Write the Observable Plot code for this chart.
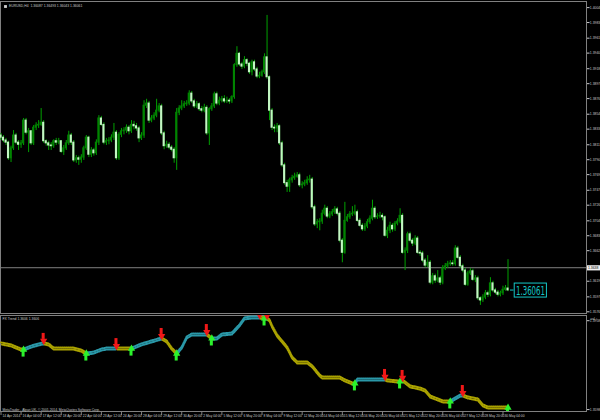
<!DOCTYPE html>
<html><head><meta charset="utf-8">
<script src="https://cdn.jsdelivr.net/npm/d3@7"></script>
<script src="https://cdn.jsdelivr.net/npm/@observablehq/plot@0.6"></script>
<style>
html,body{margin:0;padding:0;background:#000;}
#chart{width:600px;height:420px;overflow:hidden;background:#000}
#chart svg{display:block}
</style></head><body><div id="chart"></div>
<script>
// ---- data ----
const symbolName = "EURUSD,H4";
const titleValues = [1.36087, 1.36493, 1.36043, 1.36061];
const openP = [1.3824,1.3821,1.3817,1.3814,1.3792,1.3806,1.3824,1.3814,1.3811,1.3813,
1.3845,1.3828,1.3830,1.3813,1.3835,1.3838,1.3839,1.3842,1.3816,1.3813,
1.3810,1.3809,1.3816,1.3814,1.3816,1.3801,1.3806,1.3813,1.3824,1.3814,
1.3789,1.3792,1.3790,1.3793,1.3806,1.3821,1.3797,1.3803,1.3799,1.3814,
1.3848,1.3839,1.3814,1.3816,1.3817,1.3821,1.3828,1.3792,1.3825,1.3830,
1.3831,1.3835,1.3830,1.3839,1.3837,1.3834,1.3820,1.3824,1.3866,1.3869,
1.3845,1.3848,1.3852,1.3859,1.3865,1.3827,1.3809,1.3811,1.3807,1.3804,
1.3792,1.3856,1.3862,1.3865,1.3868,1.3869,1.3883,1.3872,1.3865,1.3868,
1.3861,1.3859,1.3863,1.3827,1.3861,1.3865,1.3882,1.3869,1.3873,1.3875,
1.3872,1.3873,1.3872,1.3878,1.3923,1.3939,1.3924,1.3921,1.3930,1.3925,
1.3913,1.3927,1.3917,1.3907,1.3908,1.3913,1.3934,1.3906,1.3859,1.3835,
1.3834,1.3837,1.3813,1.3782,1.3757,1.3752,1.3761,1.3764,1.3766,1.3768,
1.3754,1.3755,1.3757,1.3761,1.3762,1.3723,1.3699,1.3702,1.3703,1.3714,
1.3721,1.3710,1.3713,1.3716,1.3720,1.3714,1.3676,1.3659,1.3704,1.3709,
1.3713,1.3714,1.3716,1.3704,1.3697,1.3692,1.3696,1.3702,1.3707,1.3721,
1.3709,1.3710,1.3711,1.3709,1.3683,1.3690,1.3697,1.3692,1.3700,1.3703,
1.3711,1.3659,1.3662,1.3685,1.3676,1.3672,1.3679,1.3659,1.3658,1.3648,
1.3641,1.3645,1.3617,1.3626,1.3620,1.3623,1.3617,1.3637,1.3640,1.3643,
1.3644,1.3643,1.3665,1.3652,1.3640,1.3634,1.3614,1.3630,1.3633,1.3621,
1.3623,1.3595,1.3592,1.3596,1.3602,1.3600,1.3616,1.3606,1.3603,1.3600,
1.3602,1.3607,1.36087];
const highP = [1.3827,1.3824,1.3820,1.3816,1.3809,1.3831,1.3827,1.3817,1.3817,1.3848,
1.3848,1.3834,1.3831,1.3838,1.3842,1.3845,1.3862,1.3845,1.3818,1.3816,
1.3814,1.3818,1.3820,1.3820,1.3817,1.3810,1.3817,1.3830,1.3827,1.3817,
1.3796,1.3795,1.3797,1.3809,1.3824,1.3823,1.3807,1.3806,1.3818,1.3852,
1.3851,1.3842,1.3820,1.3821,1.3825,1.3841,1.3831,1.3828,1.3834,1.3835,
1.3839,1.3838,1.3845,1.3844,1.3841,1.3837,1.3828,1.3873,1.3875,1.3872,
1.3852,1.3856,1.3875,1.3869,1.3868,1.3830,1.3816,1.3814,1.3810,1.3807,
1.3862,1.3866,1.3873,1.3872,1.3873,1.3887,1.3886,1.3875,1.3872,1.3870,
1.3865,1.3868,1.3866,1.3863,1.3869,1.3885,1.3885,1.3878,1.3879,1.3880,
1.3878,1.3876,1.3880,1.3925,1.3949,1.3941,1.3927,1.3935,1.3932,1.3927,
1.3930,1.3930,1.3920,1.3913,1.3916,1.3939,1.3993,1.3908,1.3862,1.3839,
1.3841,1.3839,1.3816,1.3785,1.3761,1.3764,1.3768,1.3771,1.3772,1.3771,
1.3759,1.3761,1.3766,1.3768,1.3765,1.3726,1.3706,1.3707,1.3719,1.3726,
1.3724,1.3717,1.3720,1.3724,1.3723,1.3717,1.3679,1.3730,1.3713,1.3717,
1.3724,1.3726,1.3719,1.3707,1.3700,1.3700,1.3706,1.3711,1.3733,1.3724,
1.3714,1.3716,1.3714,1.3711,1.3695,1.3702,1.3700,1.3703,1.3707,1.3721,
1.3714,1.3666,1.3688,1.3688,1.3679,1.3683,1.3682,1.3662,1.3661,1.3651,
1.3655,1.3648,1.3630,1.3629,1.3634,1.3626,1.3641,1.3644,1.3647,1.3648,
1.3648,1.3669,1.3668,1.3655,1.3643,1.3637,1.3633,1.3637,1.3636,1.3627,
1.3626,1.3597,1.3600,1.3606,1.3605,1.3624,1.3619,1.3609,1.3606,1.3605,
1.3612,1.3613,1.36493];
const lowP = [1.3817,1.3814,1.3810,1.3789,1.3786,1.3803,1.3811,1.3803,1.3806,1.3810,
1.3825,1.3800,1.3810,1.3810,1.3831,1.3834,1.3837,1.3813,1.3809,1.3803,
1.3803,1.3806,1.3810,1.3811,1.3799,1.3796,1.3803,1.3810,1.3810,1.3786,
1.3785,1.3782,1.3785,1.3789,1.3803,1.3793,1.3793,1.3795,1.3796,1.3810,
1.3837,1.3811,1.3810,1.3811,1.3814,1.3817,1.3789,1.3789,1.3821,1.3825,
1.3827,1.3825,1.3827,1.3832,1.3830,1.3814,1.3817,1.3820,1.3862,1.3841,
1.3842,1.3845,1.3849,1.3856,1.3824,1.3804,1.3806,1.3804,1.3801,1.3785,
1.3775,1.3852,1.3859,1.3862,1.3865,1.3866,1.3869,1.3862,1.3862,1.3858,
1.3856,1.3856,1.3824,1.3810,1.3858,1.3862,1.3866,1.3866,1.3870,1.3869,
1.3869,1.3868,1.3869,1.3875,1.3920,1.3921,1.3917,1.3918,1.3921,1.3910,
1.3908,1.3914,1.3904,1.3904,1.3906,1.3910,1.3903,1.3845,1.3831,1.3828,
1.3828,1.3810,1.3779,1.3754,1.3744,1.3744,1.3757,1.3761,1.3764,1.3751,
1.3749,1.3752,1.3754,1.3757,1.3720,1.3696,1.3693,1.3690,1.3699,1.3711,
1.3707,1.3707,1.3710,1.3713,1.3711,1.3673,1.3645,1.3657,1.3702,1.3706,
1.3710,1.3711,1.3702,1.3695,1.3689,1.3689,1.3693,1.3699,1.3704,1.3706,
1.3706,1.3707,1.3704,1.3681,1.3679,1.3686,1.3688,1.3689,1.3697,1.3700,
1.3657,1.3634,1.3658,1.3673,1.3668,1.3669,1.3657,1.3654,1.3645,1.3638,
1.3638,1.3614,1.3614,1.3616,1.3617,1.3613,1.3614,1.3634,1.3637,1.3640,
1.3640,1.3640,1.3650,1.3637,1.3631,1.3612,1.3612,1.3627,1.3619,1.3617,
1.3592,1.3585,1.3589,1.3593,1.3596,1.3597,1.3603,1.3600,1.3597,1.3597,
1.3599,1.3605,1.36043];
const closeP = [1.3821,1.3817,1.3814,1.3792,1.3806,1.3824,1.3814,1.3811,1.3813,1.3845,
1.3828,1.3830,1.3813,1.3835,1.3838,1.3839,1.3842,1.3816,1.3813,1.3810,
1.3809,1.3816,1.3814,1.3816,1.3801,1.3806,1.3813,1.3824,1.3814,1.3789,
1.3792,1.3790,1.3793,1.3806,1.3821,1.3797,1.3803,1.3799,1.3814,1.3848,
1.3839,1.3814,1.3816,1.3817,1.3821,1.3828,1.3792,1.3825,1.3830,1.3831,
1.3835,1.3830,1.3839,1.3837,1.3834,1.3820,1.3824,1.3866,1.3869,1.3845,
1.3848,1.3852,1.3859,1.3865,1.3827,1.3809,1.3811,1.3807,1.3804,1.3792,
1.3856,1.3862,1.3865,1.3868,1.3869,1.3883,1.3872,1.3865,1.3868,1.3861,
1.3859,1.3863,1.3827,1.3861,1.3865,1.3882,1.3869,1.3873,1.3875,1.3872,
1.3873,1.3872,1.3878,1.3923,1.3939,1.3924,1.3921,1.3930,1.3925,1.3913,
1.3927,1.3917,1.3907,1.3908,1.3913,1.3934,1.3906,1.3859,1.3835,1.3834,
1.3837,1.3813,1.3782,1.3757,1.3752,1.3761,1.3764,1.3766,1.3768,1.3754,
1.3755,1.3757,1.3761,1.3762,1.3723,1.3699,1.3702,1.3703,1.3714,1.3721,
1.3710,1.3713,1.3716,1.3720,1.3714,1.3676,1.3659,1.3704,1.3709,1.3713,
1.3714,1.3716,1.3704,1.3697,1.3692,1.3696,1.3702,1.3707,1.3721,1.3709,
1.3710,1.3711,1.3709,1.3683,1.3690,1.3697,1.3692,1.3700,1.3703,1.3711,
1.3659,1.3662,1.3685,1.3676,1.3672,1.3679,1.3659,1.3658,1.3648,1.3641,
1.3645,1.3617,1.3626,1.3620,1.3623,1.3617,1.3637,1.3640,1.3643,1.3644,
1.3643,1.3665,1.3652,1.3640,1.3634,1.3614,1.3630,1.3633,1.3621,1.3623,
1.3595,1.3592,1.3596,1.3602,1.3600,1.3616,1.3606,1.3603,1.3600,1.3602,
1.3607,1.3609,1.36061];
const dateTickBars = [0,8,16,24,32,40,48,56,64,72,80,88,96,104,112,120,128,136,144,152,160,168,176,184,192,200];
const dateTickLabels = ["14 Apr 2014","16 Apr 04:00","17 Apr 12:00","18 Apr 20:00","22 Apr 04:00","23 Apr 12:00","24 Apr 20:00","28 Apr 04:00","29 Apr 12:00","30 Apr 20:00","2 May 04:00","5 May 12:00","6 May 20:00","8 May 04:00","9 May 12:00","12 May 20:00","14 May 04:00","15 May 12:00","16 May 20:00","20 May 04:00","21 May 12:00","22 May 20:00","26 May 04:00","27 May 12:00","28 May 20:00","30 May 04:00"];
const priceTicks = [1.4004,1.3983,1.3961,1.3940,1.3918,1.3897,1.3876,1.3854,1.3833,1.3811,1.3790,1.3769,1.3747,1.3726,1.3704,1.3683,1.3662,1.3619,1.3597,1.3576];
const hLinePrice = 1.3638;
const lastPrice = 1.36061;
// FX Trend indicator
const indName = "FX Trend";
const indCurrent = [1.3606, 1.3606];
const indTicks = [1.3958, 1.3598];
const indBars = [0,4,8,9,12,15,17,19,21,29,32,34,37,40,42,46,52,56,60,64,66,68,70,72,74,76,80,82,84,86,88,92,95,97,100,103,105,106,107,108,110,112,114,116,118,122,124,127,128,135,137,140,141,142,152,153,154,158,159,160,163,167,169,171,174,176,179,181,183,184,186,190,192,194,202];
const indVals = [1.3866,1.3858,1.3841,1.3841,1.3853,1.3862,1.3866,1.3862,1.3845,1.3845,1.3837,1.3825,1.3829,1.3841,1.3845,1.3845,1.3845,1.3862,1.3874,1.3886,1.3874,1.3845,1.3825,1.3849,1.3890,1.3902,1.3902,1.3902,1.3886,1.3886,1.3902,1.3906,1.3939,1.3967,1.3971,1.3971,1.3967,1.3967,1.3959,1.3935,1.3898,1.3874,1.3849,1.3809,1.3789,1.3789,1.3773,1.3736,1.3728,1.3728,1.3716,1.3704,1.3704,1.3720,1.3720,1.3720,1.3716,1.3712,1.3712,1.3716,1.3692,1.3683,1.3675,1.3651,1.3639,1.3631,1.3631,1.3643,1.3655,1.3655,1.3647,1.3639,1.3615,1.3606,1.3606];
const upArrowBars = [9,34,52,70,84,105,141,159,179,202];
const downArrowBars = [17,46,64,82,103,106,153,160,184];
const copyright = "MetaTrader - Alpari UK, \u00a9 2001-2014, MetaQuotes Software Corp.";

// ---- styling ----
const FONT = "'Liberation Sans', Arial, sans-serif";
const TXT = "#c8c8c8", GRID = "#808080";
const BULL = "#008400", BEAR = "#c2f7c2", WICK = "#00a000";
const UPC = "#2a98a8", DNC = "#aaa200";
const UPARROW = "#2cf22c", DNARROW = "#f01818";
const xDomain = [-0.2, 233.27];

const bars = closeP.map((c, i) => ({i, open: openP[i], high: highP[i], low: lowP[i], close: c}));
const N = bars.length;

const main = Plot.plot({
  width: 600, height: 314,
  marginTop: 1, marginBottom: 1, marginLeft: 0, marginRight: 14,
  style: {background: "#000", color: TXT, fontFamily: FONT},
  x: {domain: xDomain, axis: null},
  y: {domain: [1.35736, 1.40126], axis: null},
  marks: [
    Plot.frame({stroke: GRID}),
    Plot.ruleY([hLinePrice], {stroke: GRID, strokeWidth: 1}),
    Plot.ruleX(bars, {x: "i", y1: "low", y2: "high", stroke: WICK, strokeWidth: 1}),
    Plot.rect(bars, {x1: d => d.i - 0.42, x2: d => d.i + 0.42, y1: "open", y2: "close",
      fill: d => d.close > d.open ? BULL : BEAR, insetTop: -0.5, insetBottom: -0.5}),
    Plot.axisY(priceTicks, {anchor: "right", tickSize: 2.5, tickPadding: 0.8, tickFormat: d => d.toFixed(4),
      fontSize: 3.4, color: TXT}),
    Plot.text([hLinePrice], {y: d => d, frameAnchor: "right", dx: 1.5, textAnchor: "start",
      text: d => d.toFixed(4), fontSize: 3.4, fill: "#000"}),
    Plot.text([lastPrice], {x: () => N - 1, y: d => d, text: d => d.toFixed(5), dx: 8, textAnchor: "start",
      fill: "#14c8c8", fontSize: 13, fontFamily: "'Liberation Sans Narrow','DejaVu Sans Condensed',sans-serif"}),
    Plot.dot([0], {frameAnchor: "top-left", dx: 5, dy: 5, symbol: "square", r: 1.6, fill: "#d0d0d0"}),
    Plot.text([`${symbolName}  ${titleValues.map(v => v.toFixed(5)).join(" ")}`], {frameAnchor: "top-left",
      dx: 8.5, dy: 3.2, textAnchor: "start", lineAnchor: "top", fontSize: 3.4, fill: TXT})
  ]
});

// indicator segments
const switches = [...upArrowBars.map(b => ({b, t: "up"})), ...downArrowBars.map(b => ({b, t: "down"}))]
  .sort((a, b) => a.b - b.b);
const segStarts = [{b: 0, t: "down"}, ...switches];
const indPts = [];
segStarts.forEach((s, k) => {
  const end = k + 1 < segStarts.length ? segStarts[k + 1].b : Infinity;
  indBars.forEach((b, j) => { if (b >= s.b && b <= end) indPts.push({bar: b, val: indVals[j], seg: k, col: s.t === "up" ? UPC : DNC}); });
});
const valAt = new Map(indBars.map((b, j) => [b, indVals[j]]));
const upPts = upArrowBars.map(b => ({bar: b, val: valAt.get(b)}));
const dnPts = downArrowBars.map(b => ({bar: b, val: valAt.get(b)}));
const labelOf = new Map(dateTickBars.map((b, j) => [b, dateTickLabels[j]]));

const ind = Plot.plot({
  width: 600, height: 106,
  marginTop: 1, marginBottom: 9, marginLeft: 0, marginRight: 14,
  style: {background: "#000", color: TXT, fontFamily: FONT},
  x: {domain: xDomain, axis: null},
  y: {domain: [1.359025, 1.397905], axis: null},
  color: {type: "identity"},
  marks: [
    Plot.frame({stroke: GRID}),
    Plot.line(indPts, {x: "bar", y: "val", z: "seg", stroke: "col", strokeWidth: 2, strokeDasharray: "1 1", dy: -1, clip: true}),
    Plot.line(indPts, {x: "bar", y: "val", z: "seg", stroke: "col", strokeWidth: 2, strokeDasharray: "1 1", strokeDashoffset: 1, dy: 1, clip: true}),
    // up arrows: shaft + head
    Plot.rect(upPts, {x1: d => d.bar - 0.6, x2: d => d.bar + 0.6, y1: "val", y2: "val", insetTop: 1.5, insetBottom: -7.5, fill: UPARROW, clip: true}),
    Plot.dot(upPts, {x: "bar", y: "val", symbol: "triangle", r: 2.7, fill: UPARROW, stroke: "none", dy: 0, clip: true}),
    // down arrows: shaft + head
    Plot.rect(dnPts, {x1: d => d.bar - 0.6, x2: d => d.bar + 0.6, y1: "val", y2: "val", insetTop: -10, insetBottom: 4, fill: DNARROW, clip: true}),
    Plot.dot(dnPts, {x: "bar", y: "val", symbol: "triangle", rotate: 180, r: 2.7, fill: DNARROW, stroke: "none", dy: -2.5, clip: true}),
    Plot.axisY(indTicks, {anchor: "right", tickSize: 2.5, tickPadding: 0.8, tickFormat: d => d.toFixed(4), fontSize: 3.4, color: TXT}),
    Plot.ruleX(dateTickBars, {x: d => d, stroke: GRID, insetTop: 96, insetBottom: -4}),
    Plot.text(dateTickBars, {x: d => d, text: d => labelOf.get(d), frameAnchor: "bottom", dx: 1.5, dy: 2.8,
      textAnchor: "start", lineAnchor: "top", fontSize: 3.3, fill: TXT}),
    Plot.text([`${indName} ${indCurrent.map(v => v.toFixed(4)).join(" ")}`], {frameAnchor: "top-left", dx: 2, dy: 2.2,
      textAnchor: "start", lineAnchor: "top", fontSize: 3.4, fill: TXT}),
    Plot.text([copyright], {frameAnchor: "bottom-left", dx: 2, dy: -1, textAnchor: "start", lineAnchor: "bottom",
      fontSize: 3.3, fill: TXT})
  ]
});

const host = document.getElementById("chart");
host.appendChild(main);
host.appendChild(ind);

// decorations: boxes behind two labels
const NS = "http://www.w3.org/2000/svg";
function findText(svg, s) { return Array.from(svg.querySelectorAll("text")).find(e => e.textContent === s); }
const pt = findText(main, lastPrice.toFixed(5));
if (pt) {
  pt.setAttribute("textLength", "29");
  pt.setAttribute("lengthAdjust", "spacingAndGlyphs");
  const b = pt.getBBox();
  const r = document.createElementNS(NS, "rect");
  r.setAttribute("x", b.x - 1.8); r.setAttribute("y", b.y + 0.5);
  r.setAttribute("width", b.width + 3.2); r.setAttribute("height", b.height - 1);
  r.setAttribute("fill", "#000"); r.setAttribute("stroke", "#14c8c8"); r.setAttribute("stroke-width", "1");
  if (pt.getAttribute("transform")) r.setAttribute("transform", pt.getAttribute("transform"));
  pt.parentNode.insertBefore(r, pt);
  const l = document.createElementNS(NS, "line");
  const cy = b.y + b.height / 2;
  l.setAttribute("x1", b.x - 6); l.setAttribute("x2", b.x - 2.5);
  l.setAttribute("y1", cy); l.setAttribute("y2", cy);
  l.setAttribute("stroke", "#14c8c8"); l.setAttribute("stroke-width", "1");
  if (pt.getAttribute("transform")) l.setAttribute("transform", pt.getAttribute("transform"));
  pt.parentNode.insertBefore(l, pt);
}
const ht = findText(main, hLinePrice.toFixed(4));
if (ht) {
  const b = ht.getBBox();
  const r = document.createElementNS(NS, "rect");
  r.setAttribute("x", b.x - 1); r.setAttribute("y", b.y - 0.6);
  r.setAttribute("width", 14); r.setAttribute("height", b.height + 1.2);
  r.setAttribute("fill", "#f0f0f0");
  if (ht.getAttribute("transform")) r.setAttribute("transform", ht.getAttribute("transform"));
  ht.parentNode.insertBefore(r, ht);
}
</script>
</body></html>
